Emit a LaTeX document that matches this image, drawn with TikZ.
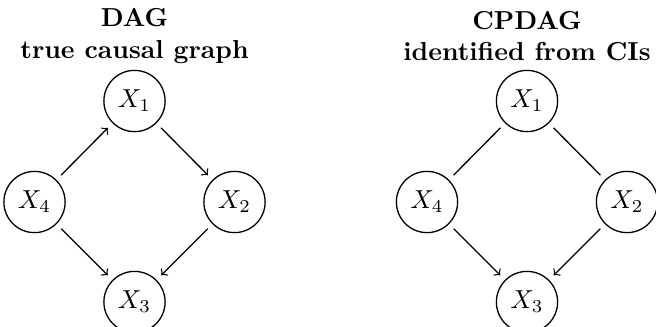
\documentclass[tikz,border=0pt]{standalone}
\usetikzlibrary{arrows}
\tikzset{var/.style={draw,circle,inner sep=3pt},
 dir/.style={->,shorten <=2.5pt,shorten >=2.5pt},
 undir/.style={shorten <=2.5pt,shorten >=2.5pt},
 title/.style={align=center,font=\bfseries}}
\begin{document}
\begin{tikzpicture}[x=1.352cm,y=1.352cm,line width=0.5pt]
\useasboundingbox (0,0) rectangle (6.56,-3.26);
% left: true graph
\node[title] (tl) at (1.345,-0.36) {DAG\\true causal graph};
\node[var] (a1) at (1.345,-1.01) {$X_1$};
\node[var] (a4) at (0.345,-2.02) {$X_4$};
\node[var] (a2) at (2.345,-2.02) {$X_2$};
\node[var] (a3) at (1.345,-3.02) {$X_3$};
\draw[dir] (a4)--(a1);\draw[dir] (a1)--(a2);
\draw[dir] (a4)--(a3);\draw[dir] (a2)--(a3);
% right: cpdag
\node[title] (tr) at (5.27,-0.36) {CPDAG\\identified from CIs};
\node[var] (b1) at (5.27,-1.01) {$X_1$};
\node[var] (b4) at (4.27,-2.02) {$X_4$};
\node[var] (b2) at (6.27,-2.02) {$X_2$};
\node[var] (b3) at (5.27,-3.02) {$X_3$};
\draw[undir] (b1)--(b4);\draw[undir] (b1)--(b2);
\draw[dir] (b4)--(b3);\draw[dir] (b2)--(b3);
\end{tikzpicture}
\end{document}
